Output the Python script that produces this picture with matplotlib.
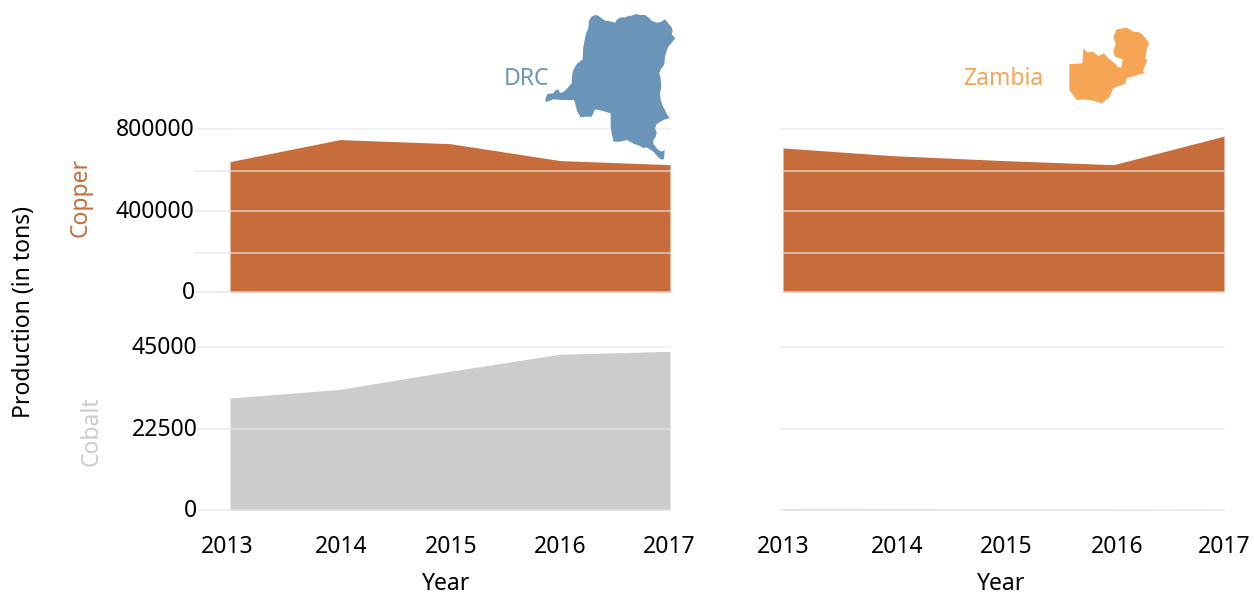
import matplotlib
matplotlib.use("Agg")
from matplotlib import pyplot as plt
from matplotlib.transforms import ScaledTranslation

plt.rcParams['font.family'] = ['Noto Sans', 'DejaVu Sans']

W, H = 1254, 597

years = [2013, 2014, 2015, 2016, 2017]
copper_drc = [640000, 748000, 728000, 645000, 625000]
copper_zambia = [707000, 669000, 645000, 625000, 765000]
cobalt_drc = [30900, 33300, 38300, 43000, 43800]
cobalt_zambia = [400, 350, 250, 150, 100]

# the minor lines are not evenly spaced in the original
copper_ticks = [0, 193000, 400000, 595000, 800000]
copper_labels = ['0', '', '400000', '', '800000']
cobalt_ticks = [0, 22500, 45000]
cobalt_labels = ['0', '22500', '45000']

# country outlines, traced in 3x zoom pixels
drc_shape = [(297, 62), (305, 50), (315, 45), (325, 47), (335, 55), (345, 62), (360, 64), (375, 68), (380, 60), (390, 53),
             (405, 52), (415, 48), (425, 47), (438, 42), (450, 45), (465, 45), (475, 52), (485, 62), (500, 68),
             (512, 66), (525, 58), (535, 70), (545, 82), (548, 92), (545, 103), (556, 115), (545, 128), (535, 140),
             (530, 152), (525, 170), (524, 185), (522, 195), (512, 208), (508, 220), (512, 235), (514, 260), (510, 280),
             (512, 300), (518, 318), (525, 330), (532, 345), (540, 354), (520, 360), (500, 372), (495, 385), (500, 398),
             (497, 410), (490, 420), (490, 432), (498, 442), (505, 450), (515, 455), (524, 450), (522, 478), (512, 478),
             (505, 472), (490, 455), (470, 442), (460, 444), (445, 436), (432, 432), (420, 425), (410, 420), (390, 425),
             (370, 425), (368, 412), (365, 400), (362, 380), (362, 340), (335, 332), (315, 328), (310, 340), (305, 350),
             (288, 350), (272, 352), (262, 335), (258, 320), (252, 300), (220, 300), (190, 298), (168, 306), (166, 298),
             (172, 282), (190, 280), (195, 272), (205, 268), (210, 278), (218, 278), (232, 265), (245, 250), (246, 230),
             (248, 215), (260, 192), (278, 178), (280, 140), (285, 115), (288, 100), (295, 85)]
zambia_shape = [(500, 58), (530, 53), (550, 65), (565, 66), (575, 72), (588, 85), (597, 100), (590, 120), (585, 145),
                (592, 150), (578, 185), (586, 188), (530, 205), (525, 222), (505, 228), (490, 235), (478, 262),
                (455, 280), (430, 272), (400, 268), (380, 270), (358, 240), (358, 163), (397, 160), (400, 115),
                (412, 128), (428, 125), (445, 138), (462, 130), (475, 145), (500, 165), (503, 172), (515, 172),
                (518, 148), (495, 140), (490, 125), (497, 100), (490, 80)]

COPPER = '#c76d3c'
COBALT = '#cccccc'
DRC = '#6a95b8'
ZAMBIA = '#f5a553'
GRID = '#e8e8e8'
FS = 16.5

fig = plt.figure(figsize=(W / 100, H / 100), dpi=100)


def make_axes(x0, x1, ytop, ybot):
    return fig.add_axes([x0 / W, 1 - ybot / H, (x1 - x0) / W, (ybot - ytop) / H])


def shift(lab, dx, dy):
    lab.set_transform(lab.get_transform() + ScaledTranslation(dx / 72, dy / 72, fig.dpi_scale_trans))


def panel(ax, values, color, ticks, labels, tick_len):
    ax.fill_between(years, 0, values, color=color, lw=0)
    ax.set_xlim(2013, 2017)
    ax.set_ylim(0, ticks[-1])
    ax.set_yticks(ticks)
    ax.set_yticklabels(labels)
    ax.set_axisbelow(False)
    ax.grid(axis='y', color=GRID, lw=1.3, alpha=0.65)
    for line in ax.get_ygridlines():
        line.set_clip_on(False)
    for s in ax.spines.values():
        s.set_visible(False)
    ax.tick_params(axis='y', length=tick_len, width=1.1, color='#ebebeb', pad=1, labelsize=FS, labelcolor='black')
    ax.tick_params(axis='x', length=0, pad=18, labelsize=FS)
    ax.set_xticks(years)
    for lab in ax.get_yticklabels():
        shift(lab, 1.5, 1.4)


ax1 = make_axes(230, 670, 129, 292)
ax2 = make_axes(783, 1224, 129, 292)
ax3 = make_axes(230, 670, 347, 510)
ax4 = make_axes(783, 1224, 347, 510)

panel(ax1, copper_drc, COPPER, copper_ticks, copper_labels, 26)
panel(ax2, copper_zambia, COPPER, copper_ticks, [''] * 5, 1.5)
panel(ax3, cobalt_drc, COBALT, cobalt_ticks, cobalt_labels, 24)
panel(ax4, cobalt_zambia, COBALT, cobalt_ticks, [''] * 3, 1.5)

ax1.set_xticklabels([])
ax2.set_xticklabels([])

# year labels sit a few px off their ticks in the original
for ax, shifts in ((ax3, [-3, 1, 1, 0, -1]), (ax4, [0, 4, 3, 3, 0])):
    for lab, dx in zip(ax.set_xticklabels([str(y) for y in years]), shifts):
        shift(lab, dx * 0.72, 0)

# overlay in pixel coords for maps and free text
top = fig.add_axes([0, 0, 1, 1], zorder=5)
top.set_xlim(0, W)
top.set_ylim(H, 0)
top.axis('off')
top.patch.set_alpha(0)

top.fill([490 + x / 3 for x, y in drc_shape], [y / 3 for x, y in drc_shape], color=DRC, lw=0)
top.fill([950 + x / 3 for x, y in zambia_shape], [10 + y / 3 for x, y in zambia_shape], color=ZAMBIA, lw=0)

top.text(526, 79, 'DRC', color=DRC, fontsize=FS, ha='center', va='center')
top.text(1003, 79, 'Zambia', color=ZAMBIA, fontsize=FS, ha='center', va='center')
top.text(81, 197, 'Copper', color=COPPER, fontsize=FS, rotation=90, ha='center', va='center')
top.text(92, 431, 'Cobalt', color=COBALT, fontsize=FS, rotation=90, ha='center', va='center')
top.text(24, 312, 'Production (in tons)', color='black', fontsize=FS, rotation=90, ha='center', va='center')
top.text(446, 596, 'Year', color='black', fontsize=FS, ha='center', va='bottom')
top.text(1001, 596, 'Year', color='black', fontsize=FS, ha='center', va='bottom')

fig.savefig('out.png', dpi=100)
